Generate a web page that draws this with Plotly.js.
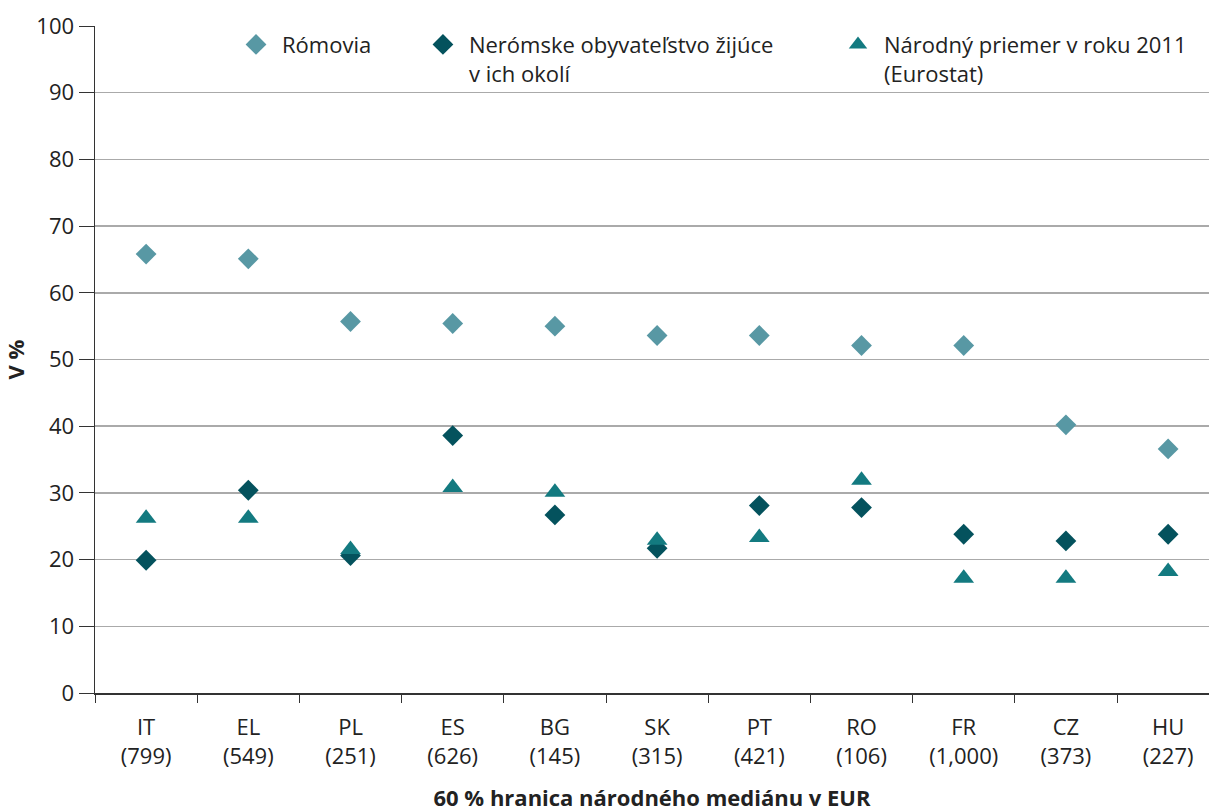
<!DOCTYPE html>
<html>
<head>
<meta charset="utf-8">
<script src="https://cdn.plot.ly/plotly-3.0.1.min.js"></script>
<style>html,body{margin:0;padding:0;background:#fff;}#chart{width:1209px;height:812px;}</style>
</head>
<body>
<div id="chart"></div>
<script>
const countries = ["IT<br>(799)","EL<br>(549)","PL<br>(251)","ES<br>(626)","BG<br>(145)","SK<br>(315)","PT<br>(421)","RO<br>(106)","FR<br>(1,000)","CZ<br>(373)","HU<br>(227)"];
const roma = [65.8,65.1,55.7,55.4,55.0,53.6,53.6,52.1,52.1,40.2,36.6];
const nonRoma = [19.9,30.4,20.6,38.6,26.7,21.7,28.1,27.8,23.8,22.8,23.8];
const national = [26.2,26.2,21.5,30.8,30.1,22.9,23.3,31.9,17.2,17.2,18.2];
const seriesNames = ["Rómovia","Nerómske obyvateľstvo žijúce<br>v ich okolí","Národný priemer v roku 2011<br>(Eurostat)"];

const font = "'Open Sans', 'Noto Sans', sans-serif";
const traces = [
  {x: countries, y: roma, name: seriesNames[0], type: "scatter", mode: "markers",
   marker: {symbol: "diamond", size: 16, color: "#5898a4"}, legend: "legend"},
  {x: countries, y: nonRoma, name: seriesNames[1], type: "scatter", mode: "markers",
   marker: {symbol: "diamond", size: 16, color: "#04525d"}, legend: "legend2"},
  {x: countries, y: national, name: seriesNames[2], type: "scatter", mode: "markers",
   marker: {symbol: "triangle-up", size: 18, color: "#137a80"}, legend: "legend3"}
];
const legBase = {orientation: "v", yanchor: "top", y: 1.0035, xanchor: "left", bgcolor: "rgba(0,0,0,0)",
  font: {family: font, size: 22, color: "#222"}, valign: "top", itemwidth: 42};
const layout = {
  width: 1209, height: 812,
  margin: {l: 95, r: 0, t: 26, b: 119},
  paper_bgcolor: "#fff", plot_bgcolor: "#fff",
  font: {family: font, size: 22, color: "#222"},
  xaxis: {type: "category", range: [-0.5, 10.4], tickson: "boundaries", ticks: "outside", ticklen: 8,
    tickcolor: "#333", showline: true, linecolor: "#333", linewidth: 1.5, showgrid: false,
    ticklabelstandoff: 14,
    tickfont: {family: font, size: 22, color: "#222"},
    title: {text: "<b>60 % hranica národného mediánu v EUR</b>", font: {family: font, size: 22, color: "#222"}, standoff: 22}},
  yaxis: {range: [0, 100], dtick: 10, ticks: "outside", ticklen: 15, tickcolor: "#333",
    showline: true, linecolor: "#333", linewidth: 1.5, gridcolor: "#aaaaaa", gridwidth: 1.5,
    zeroline: false, tickfont: {family: font, size: 22, color: "#222"},
    title: {text: "<b>V %</b>", font: {family: font, size: 22, color: "#222"}, standoff: 10}},
  legend: Object.assign({}, legBase, {x: 0.1212}),
  legend2: Object.assign({}, legBase, {x: 0.289}),
  legend3: Object.assign({}, legBase, {x: 0.6616}),
  showlegend: true
};
Plotly.newPlot("chart", traces, layout, {displayModeBar: false, staticPlot: true});
</script>
</body>
</html>
